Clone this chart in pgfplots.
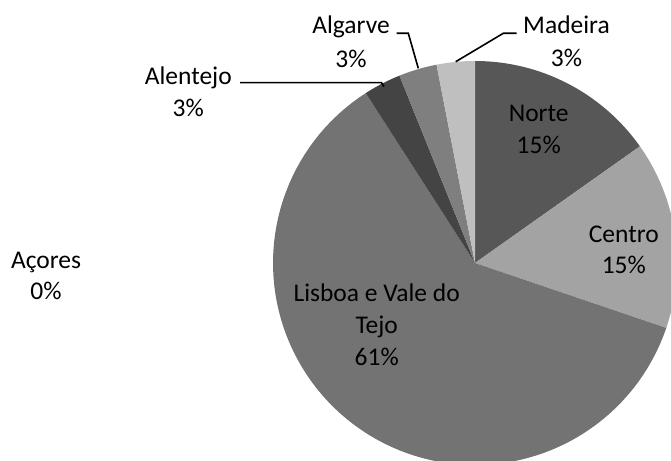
\documentclass[border=0pt]{standalone}
\usepackage{pgfplots}
\usepackage{pgfplotstable}
\pgfplotsset{compat=1.18}
\usepackage{fontspec}
\setmainfont{Carlito}

\definecolor{c0}{HTML}{575757}% Norte
\definecolor{c1}{HTML}{A3A3A3}% Centro
\definecolor{c2}{HTML}{737373}% Lisboa e Vale do Tejo
\definecolor{c3}{HTML}{000000}% Acores (0%)
\definecolor{c4}{HTML}{444444}% Alentejo
\definecolor{c5}{HTML}{7F7F7F}% Algarve
\definecolor{c6}{HTML}{BFBFBF}% Madeira

\pgfplotstableread{
region pct
Norte 15.2
Centro 15.0
Lisboa 60.7
Acores 0.0
Alentejo 3.0
Algarve 3.05
Madeira 3.05
}\piedata

\begin{document}
\begin{tikzpicture}
\begin{axis}[
  width=671bp, height=461bp, scale only axis,
  xmin=0, xmax=671, ymin=0, ymax=461,
  hide axis, clip=true,
]
\def\cum{0}
\pgfplotsforeachungrouped \i in {0,...,6}{%
  \pgfplotstablegetelem{\i}{pct}\of\piedata
  \let\vv=\pgfplotsretval
  \pgfmathsetmacro\sa{90-3.6*(\cum+\vv)}%
  \pgfmathsetmacro\sb{90-3.6*\cum}%
  \pgfmathsetmacro\cum{\cum+\vv}%
  \pgfmathtruncatemacro\ok{\vv>0}%
  \ifnum\ok=1
    \edef\temp{\noexpand\addplot[fill=c\i, draw=none, domain=\sa:\sb, samples=90] ({475+202*cos(x)},{198+202*sin(x)}) -- (axis cs:475,198) -- cycle;}%
    \temp
  \fi
}

% leader lines
\draw[black, line width=1.6bp] (axis cs:240,378.3) -- (axis cs:381.5,378.3) -- (axis cs:384,374.5);
\draw[black, line width=1.6bp] (axis cs:396.7,427.7) -- (axis cs:408.3,427.7) -- (axis cs:418.3,392.7);
\draw[black, line width=1.6bp] (axis cs:516.7,427.7) -- (axis cs:503.3,427.7) -- (axis cs:455.7,399.3);

% labels
\tikzset{lbl/.style={anchor=base, inner sep=0pt, font=\fontsize{25.5bp}{32bp}\selectfont}}
\node[lbl] at (axis cs:538.7,339.3) {Norte};
\node[lbl] at (axis cs:538.7,307) {15\%};
\node[lbl] at (axis cs:623.8,218.3) {Centro};
\node[lbl] at (axis cs:623.8,187) {15\%};
\node[lbl] at (axis cs:376.7,159.3) {Lisboa e Vale do};
\node[lbl] at (axis cs:376.7,127) {Tejo};
\node[lbl] at (axis cs:376.7,95.3) {61\%};
\node[lbl] at (axis cs:188.3,376) {Alentejo};
\node[lbl] at (axis cs:188.3,344.3) {3\%};
\node[lbl] at (axis cs:351,427.7) {Algarve};
\node[lbl] at (axis cs:351,393.5) {3\%};
\node[lbl] at (axis cs:566.5,427.7) {Madeira};
\node[lbl] at (axis cs:566.5,394) {3\%};
\node[lbl] at (axis cs:46,192.7) {Açores};
\node[lbl] at (axis cs:46,161.7) {0\%};
\end{axis}
\pgfresetboundingbox
\path (current axis.south west) rectangle (current axis.north east);
\end{tikzpicture}
\end{document}
